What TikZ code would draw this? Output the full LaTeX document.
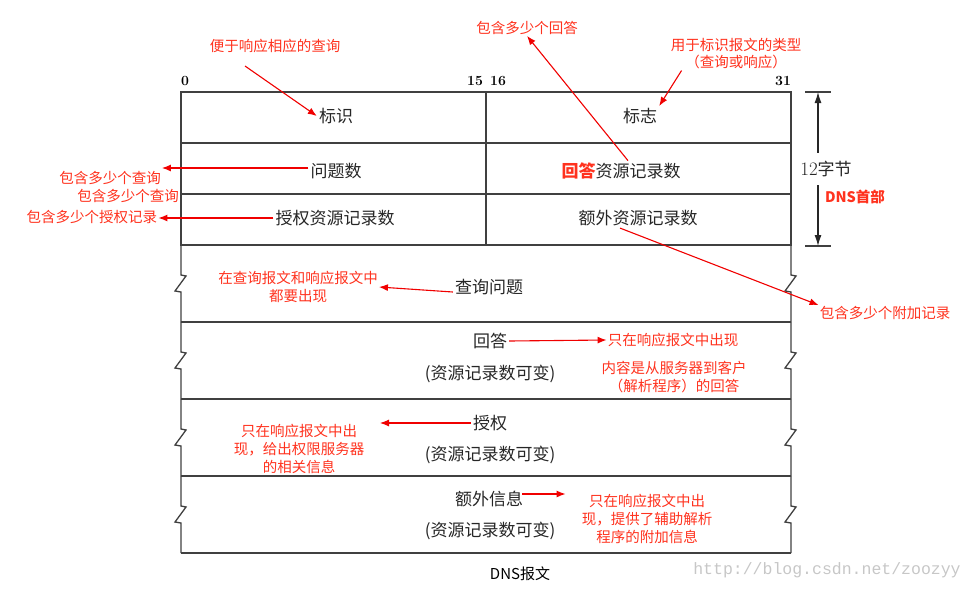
\documentclass[tikz,border=0pt]{standalone}
\usepackage{fontspec}
\newfontfamily\cjk{Noto Sans CJK SC}
\newfontfamily\wmfont{Liberation Mono}
\usetikzlibrary{arrows.meta}
\definecolor{notered}{RGB}{255,50,30}
\definecolor{arrowred}{RGB}{240,0,0}
\begin{document}
\begin{tikzpicture}[x=1pt, y=-1pt,
		frame/.style={black!75, line width=1.3pt},
		field/.style={font=\cjk\fontsize{17}{17}\selectfont, text=black!85, inner sep=2pt},
		note/.style={font=\cjk\fontsize{14.5}{18}\selectfont, text=notered, align=center, inner sep=1pt},
		bitnum/.style={font=\bfseries\fontsize{14}{14}\selectfont, inner sep=1pt},
		redarrow/.style={-{Latex[length=9pt,width=7pt]}, arrowred, line width=1.1pt},
		dimarrow/.style={-{Latex[length=11pt,width=7pt]}, black!85, line width=1.2pt}]
		\useasboundingbox (0,0) rectangle (974,590);

		\draw [frame]	(181,92) rectangle (791,245);
		\draw [frame]	(181,143) to (791,143);
		\draw [frame]	(181,194) to (791,194);
		\draw [frame]	(486,92) to (486,245);
		\foreach \y in {245,322,399,476} {
			\draw [frame]	(181,\y) -- (181,\y+30) -- (186,\y+31) -- (175,\y+46) -- (181,\y+47) -- (181,\y+77);
			\draw [frame]	(791,\y) -- (791,\y+30) -- (796,\y+31) -- (785,\y+46) -- (791,\y+47) -- (791,\y+77);
		}
		\draw [frame]	(181,322) to (791,322);
		\draw [frame]	(181,399) to (791,399);
		\draw [frame]	(181,476) to (791,476);
		\draw [frame]	(181,553) to (791,553);

		\node [bitnum] (b0)	at (185,81) {0};
		\node [bitnum] (b15)	at (475,81) {15};
		\node [bitnum] (b16)	at (498,81) {16};
		\node [bitnum] (b31)	at (783,81) {31};

		\node [field] (biaoshi)	at (336,116) {标识};
		\node [field] (biaozhi)	at (640,116) {标志};
		\node [field] (wenti)	at (336,171) {问题数};
		\node [field] (ansrr)	at (621,171) {\textcolor{notered}{\bfseries 回答}资源记录数};
		\node [field] (authrr)	at (335,218) {授权资源记录数};
		\node [field] (addrr)	at (638,218) {额外资源记录数};

		\node [field] (question)	at (489,287) {查询问题};
		\node [field] (answer)	at (490,341) {回答};
		\node [field] (answervar)	at (490,374) {(资源记录数可变)};
		\node [field] (auth)	at (490,423) {授权};
		\node [field] (authvar)	at (490,455) {(资源记录数可变)};
		\node [field] (extra)	at (489,499) {额外信息};
		\node [field] (extravar)	at (490,531) {(资源记录数可变)};

		\coordinate (hdtop)	at (818,92);
		\coordinate (hdbot)	at (818,246);
		\draw [frame]	(805,92) to (831,92);
		\draw [frame]	(805,246) to (831,246);
		\node [field, inner ysep=8pt] (size)	at (826,169) {{\rmfamily\fontsize{19}{19}\selectfont 12}字节};
		\draw [dimarrow]	(size.north -| hdtop) to (hdtop);
		\draw [dimarrow]	(size.south -| hdbot) to (hdbot);
		\node [note, font=\cjk\bfseries\fontsize{14.5}{18}\selectfont] (header)	at (855,197) {DNS首部};

		\node [note] (nid)	at (275,46) {便于响应相应的查询};
		\node [note] (nans)	at (527,28) {包含多少个回答};
		\node [note, font=\cjk\fontsize{14.5}{17}\selectfont] (ntype)	at (736,54) {用于标识报文的类型\\（查询或响应）};
		\node [note] (nq1)	at (110,178) {包含多少个查询};
		\node [note] (nq2)	at (128,196) {包含多少个查询};
		\node [note] (nau)	at (92,217) {包含多少个授权记录};
		\node [note] (nadd)	at (885,313) {包含多少个附加记录};
		\node [note] (nboth)	at (298,287) {在查询报文和响应报文中\\都要出现};
		\node [note] (nonly)	at (673,340) {只在响应报文中出现};
		\node [note] (ncontent)	at (674,377) {内容是从服务器到客户\\（解析程序）的回答};
		\node [note] (nauth)	at (299,449) {只在响应报文中出\\现，给出权限服务器\\的相关信息};
		\node [note] (nextra)	at (647,519) {只在响应报文中出\\现，提供了辅助解析\\程序的附加信息};

		\coordinate (idtail)	at (245,66);
		\coordinate (authtip)	at (380,423);
		\draw [redarrow]	(idtail) to (biaoshi.west);
		\draw [redarrow]	([xshift=7pt]ansrr.north) to (nans.south);
		\draw [redarrow]	([xshift=12pt]ntype.south west) to (biaozhi.north east);
		\draw [redarrow]	([yshift=3pt]wenti.west) to ([yshift=3pt]wenti.west -| nq1.east);
		\draw [redarrow]	(authrr.west) to (authrr.west -| nau.east);
		\draw [redarrow]	([xshift=-18pt]addrr.south) to (nadd.north west);
		\draw [redarrow]	([yshift=-5pt]question.west) to (nboth.east);
		\draw [redarrow]	(answer.east) to (nonly.west);
		\draw [redarrow]	(auth.west) to (authtip);
		\draw [redarrow, shorten >=15pt]	([xshift=-3pt, yshift=5pt]extra.east) to ([yshift=5pt]extra.east -| nextra.west);

		\node [font=\cjk\fontsize{15}{15}\selectfont] (dnsmsg)	at (520,574) {DNS报文};
		\node [font=\wmfont\fontsize{16.5}{16.5}\selectfont, text=black!22] (mark)	at (827,570) {http://blog.csdn.net/zoozyy};
	\end{tikzpicture}
\end{document}
